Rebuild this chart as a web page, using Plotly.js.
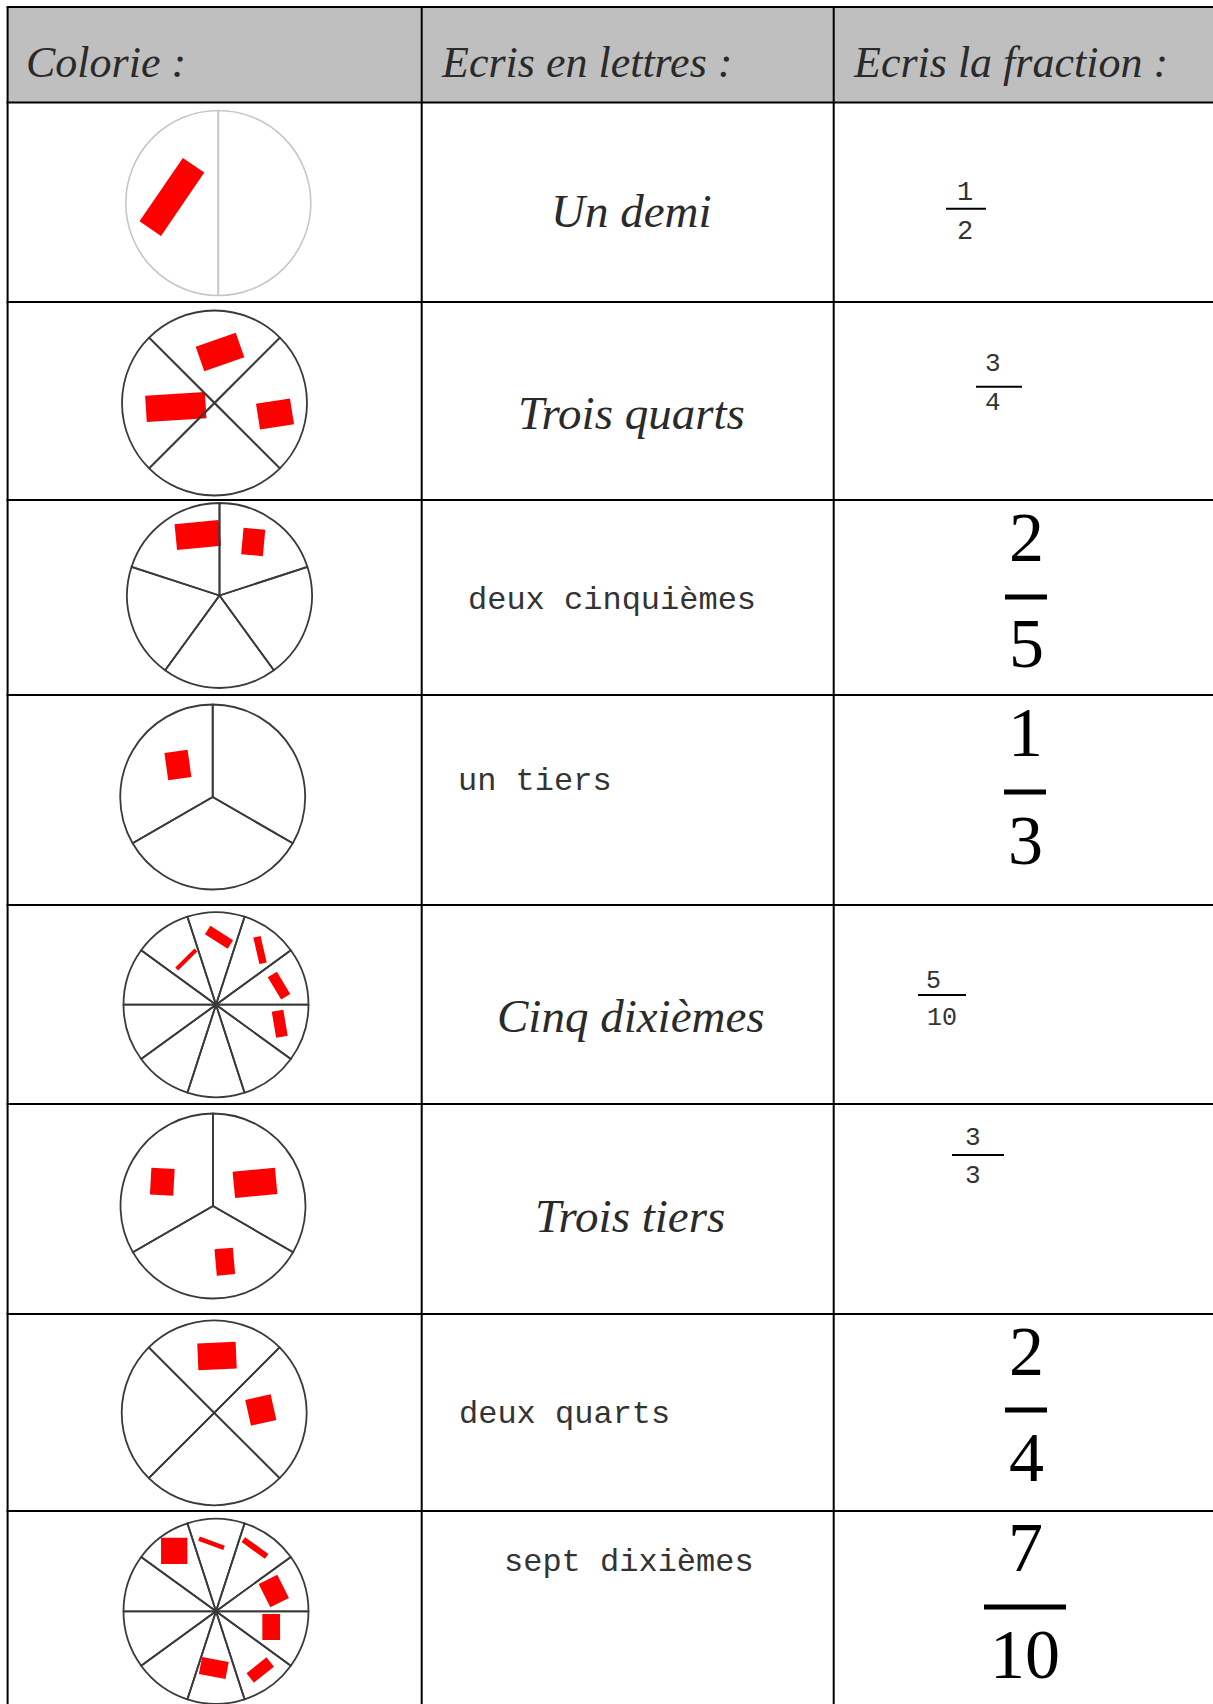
<!DOCTYPE html>
<html>
<head>
<meta charset="utf-8">
<script src="https://cdn.plot.ly/plotly-3.0.1.min.js"></script>
<style>
  body { margin: 0; background: #fff; }
  #sheet { width: 1213px; height: 1704px; }
</style>
</head>
<body>
<div id="sheet"></div>
<script>
// worksheet content
var headers = ['Colorie :', 'Ecris en lettres :', 'Ecris la fraction :'];
var words = ['Un demi', 'Trois quarts', 'deux cinquièmes', 'un tiers',
             'Cinq dixièmes', 'Trois tiers', 'deux quarts', 'sept dixièmes'];
var numerators = [1, 3, 2, 1, 5, 3, 2, 7];
var denominators = [2, 4, 5, 3, 10, 3, 4, 10];

// page geometry (pixels)
var W = 1213, H = 1704;
var colX = [7.6, 421.7, 833.7];
var rowY = [7, 102.5, 302, 500, 695, 905, 1104, 1314, 1511];
var R = 92.5;
var circleCenters = [[218.3, 203], [214.5, 403], [219.5, 595.5], [212.7, 797],
                     [216, 1004.7], [213, 1206], [214.2, 1412.8], [216, 1611.3]];

// how the words are written: cursive or typed
var wordStyle = ['cursive', 'cursive', 'typed', 'typed', 'cursive', 'cursive', 'typed', 'typed'];
var wordPos = [[631, 211], [631, 413], [466, 600], [456, 781],
               [631, 1016], [630, 1216], [457, 1414], [502, 1562]];

// fraction placement: numerator xy, denominator xy, bar x0,x1,y, bar width, font size, big?
var fracPos = [
  {n: [965, 193], d: [965, 231.5], bar: [946, 986, 208.7], bw: 2, fs: 27, big: false},
  {n: [993, 364], d: [993, 403], bar: [976, 1022, 386.7], bw: 2, fs: 26, big: false},
  {n: [1026, 537], d: [1026, 643], bar: [1005, 1047, 597], bw: 5, fs: 70, big: true},
  {n: [1025, 732], d: [1025, 840], bar: [1004, 1046, 792], bw: 5, fs: 70, big: true},
  {n: [933, 981], d: [942, 1018], bar: [918, 966, 995], bw: 2, fs: 25, big: false},
  {n: [973, 1138], d: [973, 1176], bar: [952, 1004, 1155], bw: 2, fs: 26, big: false},
  {n: [1026, 1351], d: [1026, 1457], bar: [1005, 1047, 1410], bw: 5, fs: 70, big: true},
  {n: [1025, 1547], d: [1025, 1654], bar: [984, 1066, 1607], bw: 5, fs: 70, big: true}
];

// red colouring patches: offset from circle centre, length, thickness, angle (deg)
var patches = [
  [[-46.4, -6.1, 76.7, 26, 55.6]],
  [[5.5, -51, 42.4, 25.9, 19.3], [-38.7, 4, 59.8, 26.4, 3.5], [60.5, 11, 34.4, 26, 9]],
  [[-21.7, -60.5, 44.2, 26, 5.6], [33.7, -53.5, 21.8, 26.4, -5.3]],
  [[-34.8, -32, 23.4, 27.4, 8]],
  [[-29.7, -45.2, 27, 4, 44.5], [3, -67.5, 27, 10, -32.5], [44, -54.7, 27.2, 7.5, -77],
   [63, -19, 26, 10.6, -59], [63.7, 19, 26.4, 11.7, -80.4]],
  [[-50.7, -24.3, 23.3, 26.7, -3.2], [42, -23.2, 42.5, 26.4, 5.4], [11.8, 55.7, 18.4, 26.4, 5]],
  [[2.8, -56.8, 38.4, 26.7, 2.4], [46.6, -2.8, 26, 26.4, 12.6]],
  [[-41.8, -60.5, 26.3, 26.3, 0], [-4.5, -68, 26.7, 4.5, -20.4], [39, -63.3, 28.7, 6, -35.6],
   [57.8, -20.3, 26, 20.8, -63.5], [55.2, 15.7, 17.7, 26, 0], [-2.2, 56.7, 27.1, 17.5, -10.6],
   [44.2, 58.7, 25.6, 11.9, 38.7]]
];

var CURSIVE = 'Liberation Serif, DejaVu Serif, serif';
var MONO = 'Liberation Mono, DejaVu Sans Mono, monospace';

var traces = [];
var shapes = [];
var annotations = [];

// header band
shapes.push({type: 'rect', xref: 'x', yref: 'y', x0: colX[0], x1: W + 5, y0: rowY[0], y1: rowY[1],
             fillcolor: '#bfbfbf', line: {width: 0}, layer: 'below'});

// grid
rowY.forEach(function (y) {
  shapes.push({type: 'line', xref: 'x', yref: 'y', x0: colX[0] - 1, x1: W + 5, y0: y, y1: y,
               line: {color: '#000', width: 2.2}, layer: 'above'});
});
colX.forEach(function (x) {
  shapes.push({type: 'line', xref: 'x', yref: 'y', x0: x, x1: x, y0: rowY[0], y1: H + 5,
               line: {color: '#000', width: 2}, layer: 'above'});
});

// header titles
var headerX = [24, 439, 851];
headers.forEach(function (h, i) {
  annotations.push({xref: 'x', yref: 'y', x: headerX[i], y: 62, xanchor: 'left', yanchor: 'middle',
                    text: '<i>' + h + '</i>', showarrow: false,
                    font: {family: CURSIVE, size: 44, color: '#2a2a2a'}});
});

// red patches first, so the pie outlines sit on top
patches.forEach(function (list, i) {
  var c = circleCenters[i];
  var xs = [], ys = [];
  list.slice(0, numerators[i]).forEach(function (p) {
    var cx = c[0] + p[0], cy = c[1] + p[1];
    var a = p[4] * Math.PI / 180;
    var ux = Math.cos(a), uy = -Math.sin(a);   // along length (screen y down)
    var vx = -uy, vy = ux;                      // across thickness
    var hl = p[2] / 2, ht = p[3] / 2;
    [[-1, -1], [1, -1], [1, 1], [-1, 1], [-1, -1]].forEach(function (k) {
      xs.push(cx + k[0] * hl * ux + k[1] * ht * vx);
      ys.push(cy + k[0] * hl * uy + k[1] * ht * vy);
    });
    xs.push(null); ys.push(null);
  });
  traces.push({type: 'scatter', mode: 'lines', x: xs, y: ys, fill: 'toself',
               fillcolor: '#ff0000', line: {width: 0, color: '#ff0000'},
               hoverinfo: 'skip', showlegend: false});
});

// circles cut into equal parts
denominators.forEach(function (d, i) {
  var c = circleCenters[i];
  var vals = [];
  for (var k = 0; k < d; k++) vals.push(1);
  var rot = d === 4 ? 45 : (d === 10 ? 18 : 0);
  traces.push({
    type: 'pie', values: vals, sort: false, textinfo: 'none', hoverinfo: 'skip',
    rotation: rot, showlegend: false,
    marker: {colors: vals.map(function () { return 'rgba(0,0,0,0)'; }),
             line: {color: i === 0 ? '#c6c6c6' : '#3a3a3a', width: i === 0 ? 1.6 : 1.8}},
    domain: {x: [(c[0] - R) / W, (c[0] + R) / W], y: [1 - (c[1] + R) / H, 1 - (c[1] - R) / H]}
  });
});

// written words
words.forEach(function (w, i) {
  var cur = wordStyle[i] === 'cursive';
  annotations.push({xref: 'x', yref: 'y', x: wordPos[i][0], y: wordPos[i][1],
                    xanchor: cur ? 'center' : 'left', yanchor: 'middle', showarrow: false,
                    text: cur ? '<i>' + w + '</i>' : w,
                    font: {family: cur ? CURSIVE : MONO, size: cur ? 47 : 32, color: cur ? '#2a2a2a' : '#333'}});
});

// fractions
numerators.forEach(function (n, i) {
  var f = fracPos[i];
  var fam = f.big ? CURSIVE : MONO;
  var col = f.big ? '#000' : '#333';
  annotations.push({xref: 'x', yref: 'y', x: f.n[0], y: f.n[1], xanchor: 'center', yanchor: 'middle',
                    showarrow: false, text: String(n), font: {family: fam, size: f.fs, color: col}});
  annotations.push({xref: 'x', yref: 'y', x: f.d[0], y: f.d[1], xanchor: 'center', yanchor: 'middle',
                    showarrow: false, text: String(denominators[i]), font: {family: fam, size: f.fs, color: col}});
  shapes.push({type: 'line', xref: 'x', yref: 'y', x0: f.bar[0], x1: f.bar[1], y0: f.bar[2], y1: f.bar[2],
               line: {color: '#000', width: f.bw}, layer: 'above'});
});

var layout = {
  width: W, height: H,
  margin: {l: 0, r: 0, t: 0, b: 0, pad: 0},
  paper_bgcolor: '#fff', plot_bgcolor: '#fff',
  xaxis: {range: [0, W], visible: false, fixedrange: true},
  yaxis: {range: [H, 0], visible: false, fixedrange: true},
  showlegend: false, hovermode: false,
  shapes: shapes, annotations: annotations
};

Plotly.newPlot('sheet', traces, layout, {staticPlot: true, displayModeBar: false});
</script>
</body>
</html>
